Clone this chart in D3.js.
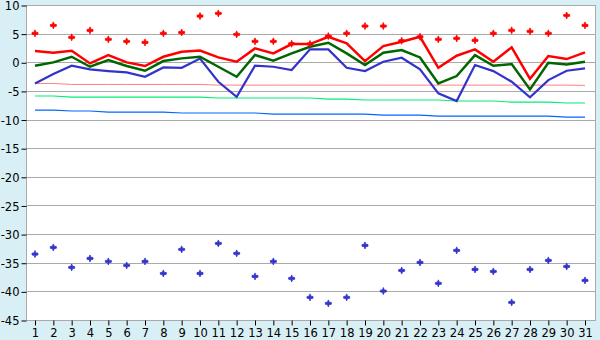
<!DOCTYPE html>
<html>
<head>
<meta charset="utf-8">
<script src="https://cdn.jsdelivr.net/npm/d3@7"></script>
<style>
  body { margin: 0; background: #d9eff6; }
  svg { display: block; }
  text { font-family: "DejaVu Sans", sans-serif; font-size: 11px; fill: #000; }
</style>
</head>
<body>
<svg id="chart" width="600" height="340"></svg>
<script>
const days = d3.range(1, 32);

// daily values
const maxPoints = [5.05, 6.44, 4.35, 5.57, 4.0, 3.65, 3.47, 5.05, 5.2, 8.07, 8.53, 4.87, 3.65, 3.65, 3.24, 3.2, 4.57, 5.05, 6.32, 6.32, 3.76, 4.45, 4.0, 4.17, 3.82, 5.05, 5.57, 5.4, 5.05, 8.18, 6.44];
const maxLine = [1.96, 1.66, 2.0, -0.2, 1.26, -0.02, -0.66, 0.96, 1.84, 2.05, 0.85, 0.1, 2.42, 1.55, 3.18, 3.18, 4.45, 3.3, 0.2, 2.83, 3.58, 4.45, -0.96, 1.14, 2.25, 0.1, 2.6, -2.88, 1.08, 0.56, 1.73];
const meanLine = [-0.6, -0.02, 0.96, -0.78, 0.38, -0.66, -1.48, 0.21, 0.68, 0.96, -0.78, -2.53, 1.26, 0.26, 1.55, 2.71, 3.41, 1.55, -0.49, 1.66, 2.13, 0.85, -3.69, -2.41, 1.26, -0.6, -0.31, -4.73, -0.08, -0.37, 0.1];
const minLine = [-3.69, -2.06, -0.6, -1.24, -1.54, -1.77, -2.53, -0.9, -0.96, 0.64, -3.4, -6.02, -0.6, -0.78, -1.36, 2.25, 2.25, -0.96, -1.54, 0.1, 0.79, -1.24, -5.43, -6.78, -0.49, -1.54, -3.4, -6.13, -3.11, -1.48, -1.07];
const minPoints = [-33.49, -32.33, -35.82, -34.25, -34.77, -35.47, -34.77, -36.87, -32.67, -36.87, -31.63, -33.37, -37.39, -34.77, -37.74, -41.05, -42.1, -41.05, -31.98, -39.95, -36.35, -34.95, -38.6, -32.85, -36.17, -36.52, -41.93, -36.17, -34.6, -35.65, -38.09];

// normals
const normMax = [-3.7, -3.7, -3.87, -3.87, -3.87, -3.87, -3.87, -3.87, -3.87, -3.87, -3.99, -3.99, -3.99, -3.99, -3.99, -3.99, -3.99, -3.99, -3.99, -3.99, -3.99, -3.99, -3.99, -3.99, -3.99, -3.99, -3.99, -3.99, -3.99, -3.99, -4.03];
const normMean = [-5.9, -5.9, -6.08, -6.08, -6.08, -6.08, -6.08, -6.08, -6.08, -6.08, -6.25, -6.25, -6.25, -6.25, -6.25, -6.25, -6.43, -6.43, -6.6, -6.6, -6.6, -6.6, -6.6, -6.77, -6.77, -6.77, -6.95, -6.95, -6.95, -7.12, -7.12];
const normMin = [-8.35, -8.35, -8.52, -8.52, -8.7, -8.7, -8.7, -8.7, -8.87, -8.87, -8.87, -8.87, -8.87, -9.05, -9.05, -9.05, -9.05, -9.05, -9.05, -9.22, -9.22, -9.22, -9.4, -9.4, -9.4, -9.4, -9.4, -9.4, -9.4, -9.57, -9.57];

const yTicks = [10, 5, 0, -5, -10, -15, -20, -25, -30, -35, -40, -45];

const svg = d3.select("#chart");
const plotLeft = 26.5, plotRight = 595.5, plotTop = 5, plotBottom = 320;

const x = d3.scaleLinear().domain([1, 31]).range([35, 585]);
const y = d3.scaleLinear().domain([-45, 10]).range([plotBottom, plotTop]);

svg.append("rect")
  .attr("x", plotLeft).attr("y", plotTop)
  .attr("width", plotRight - plotLeft).attr("height", plotBottom - plotTop)
  .attr("fill", "#fff");

// grid
svg.append("g").selectAll("line").data(yTicks.slice(1, -1)).enter().append("line")
  .attr("x1", plotLeft).attr("x2", plotRight)
  .attr("y1", d => Math.round(y(d)) + 0.5).attr("y2", d => Math.round(y(d)) + 0.5)
  .attr("stroke", "#aaaaaa").attr("stroke-width", 1);

// frame
svg.append("rect")
  .attr("x", plotLeft).attr("y", plotTop + 0.5)
  .attr("width", plotRight - plotLeft).attr("height", plotBottom - plotTop)
  .attr("fill", "none").attr("stroke", "#aaaaaa");

// axes
const yAxis = d3.axisLeft(y).tickValues(yTicks).tickSize(5).tickPadding(2).tickFormat(d => d);
const gy = svg.append("g").attr("transform", `translate(${plotLeft},0)`).call(yAxis);
gy.select(".domain").remove();
gy.selectAll(".tick line").attr("stroke", "#000").attr("transform", "translate(0,0.5)");
gy.selectAll("text").style("font-size", "11.5px").attr("dy", "0.4em");

const xAxis = d3.axisBottom(x).tickValues(days).tickSize(5).tickPadding(3).tickFormat(d => d);
const gx = svg.append("g").attr("transform", `translate(0,${plotBottom + 0.5})`).call(xAxis);
gx.select(".domain").remove();
gx.selectAll(".tick line").attr("stroke", "#000");
gx.selectAll("text").style("font-size", "11.5px");

const line = d3.line().x((d, i) => x(days[i])).y(d => y(d));

const plot = svg.append("g");
const addLine = (data, col, w) => plot.append("path").datum(data)
  .attr("d", line).attr("fill", "none").attr("stroke", col).attr("stroke-width", w);

addLine(normMax, "#ff8080", 1);
addLine(normMean, "#00ee77", 1.1);
addLine(normMin, "#0066ff", 1.1);
addLine(minLine, "#3333cc", 2.2);
addLine(meanLine, "#006600", 2.5);
addLine(maxLine, "#ff0000", 2.5);

const marker = "M0,-3.5L0.9,-1.2L3,-0.9L3,0.9L0.9,1.2L0,3.5L-0.9,1.2L-3,0.9L-3,-0.9L-0.9,-1.2Z";
const addPoints = (data, col) => plot.append("g").selectAll("path").data(data).enter().append("path")
  .attr("d", marker)
  .attr("transform", (d, i) => `translate(${x(days[i])},${y(d)})`)
  .attr("fill", col).attr("stroke", col).attr("stroke-width", 0.8);

addPoints(maxPoints, "#ff0000");
addPoints(minPoints, "#3333cc");
</script>
</body>
</html>
